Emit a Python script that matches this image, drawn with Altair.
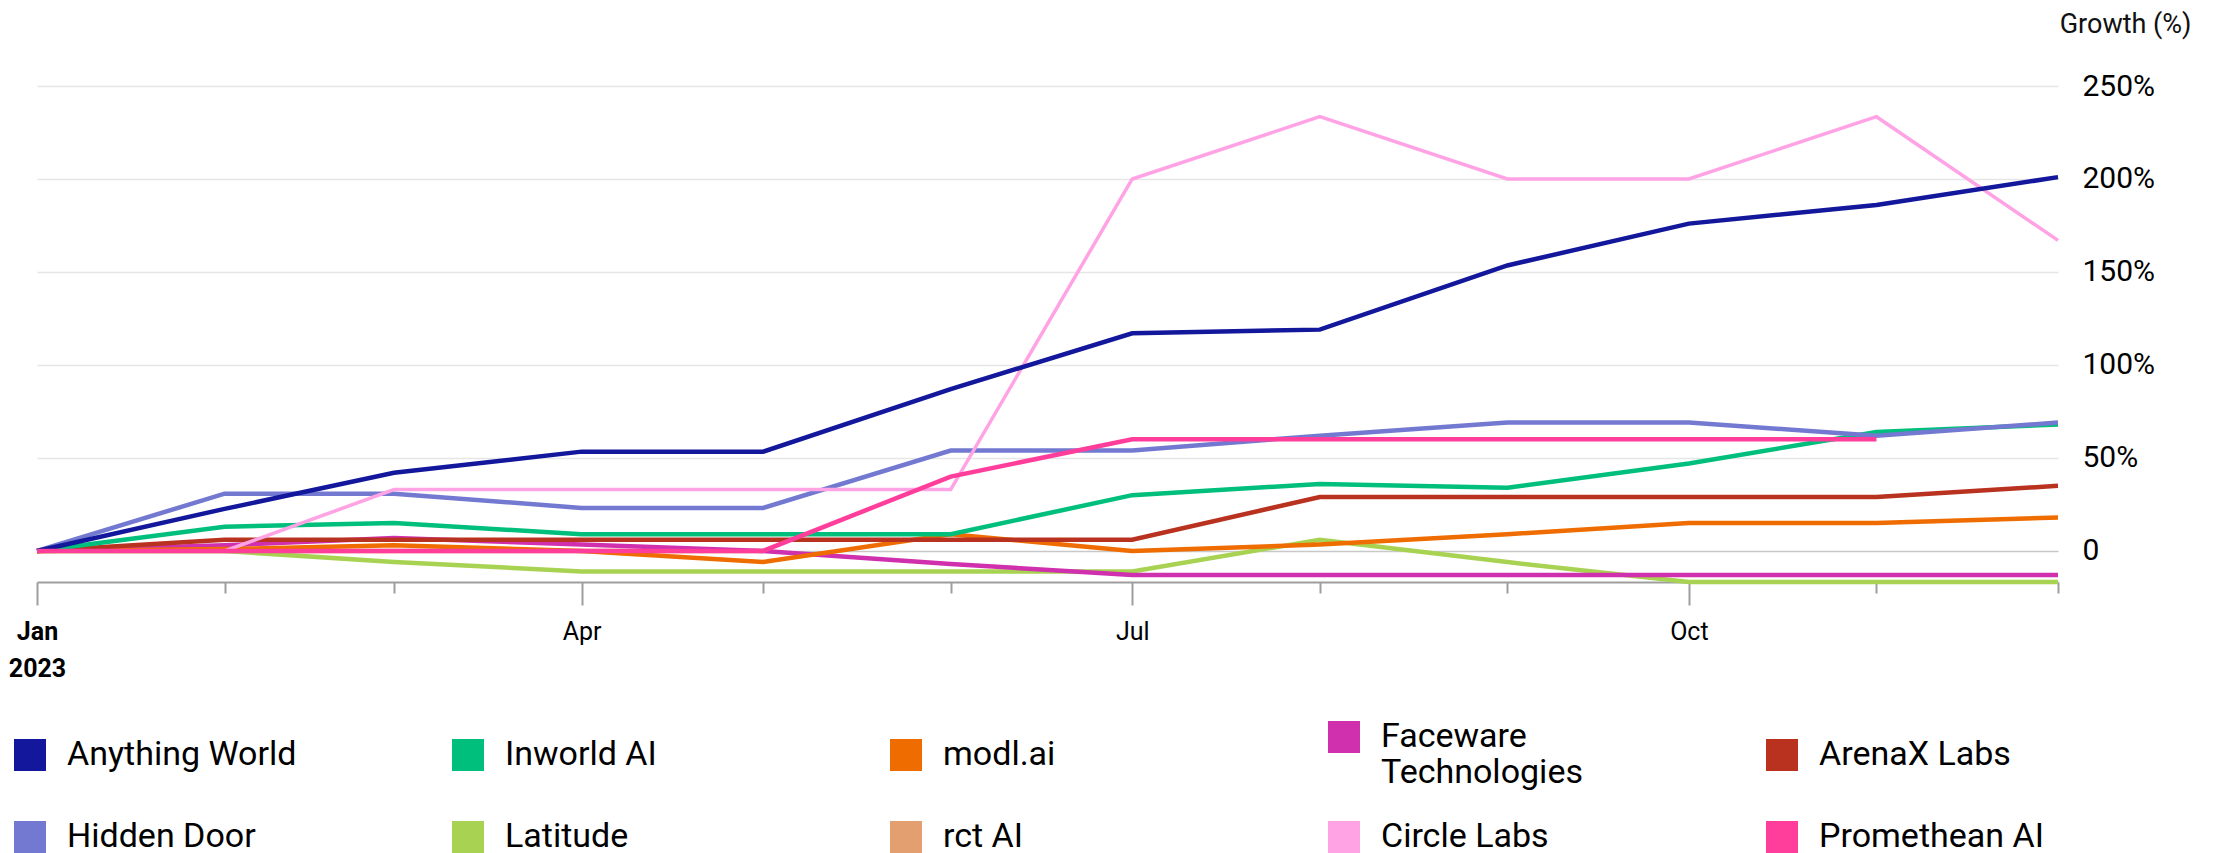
import altair as alt
import pandas as pd

months = ["2023-01-01", "2023-02-01", "2023-03-01", "2023-04-01", "2023-05-01", "2023-06-01",
          "2023-07-01", "2023-08-01", "2023-09-01", "2023-10-01", "2023-11-01", "2023-12-01"]

companies = ["Anything World", "Inworld AI", "modl.ai", "Faceware Technologies", "ArenaX Labs",
             "Hidden Door", "Latitude", "rct AI", "Circle Labs", "Promethean AI"]
colors = ["#12179B", "#00BF7D", "#EF6C00", "#D02FAE", "#B93220",
          "#7379D1", "#A8D252", "#E39F6F", "#FFA3E5", "#FF3E9C"]

anything_world = [0, 22.6, 42, 53.4, 53.4, 87, 117, 119, 153.5, 176, 186, 201]
inworld_ai = [0, 13, 15, 9, 9, 9, 30, 36, 34, 47, 64, 68]
modl_ai = [0, 1, 3, 0, -6, 9, 0, 3.4, 9, 15, 15, 18]
faceware = [0, 3, 7, 3.4, 0, -7, -13, -13, -13, -13, -13, -13]
arenax = [0, 6, 6, 6, 6, 6, 6, 29, 29, 29, 29, 35]
hidden_door = [0, 30.8, 30.8, 23.1, 23.1, 54, 54, 62, 69, 69, 62, 69]
latitude = [0, 0, -6, -11, -11, -11, -11, 6, -6, -16.7, -16.7, -16.7]
rct_ai = [0, 0, 0, 0, 0, None, None, None, None, None, None, None]
circle_labs = [0, 0, 33, 33, 33, 33, 200, 233.5, 200, 200, 233.5, 167]
promethean = [0, 0, 0, 0, 0, 40, 60, 60, 60, 60, 60, None]

series = {
    "Anything World": anything_world, "Inworld AI": inworld_ai, "modl.ai": modl_ai,
    "Faceware Technologies": faceware, "ArenaX Labs": arenax, "Hidden Door": hidden_door,
    "Latitude": latitude, "rct AI": rct_ai, "Circle Labs": circle_labs, "Promethean AI": promethean,
}
draw_order = ["rct AI", "Latitude", "Faceware Technologies", "modl.ai", "ArenaX Labs", "Inworld AI",
              "Hidden Door", "Circle Labs", "Anything World", "Promethean AI"]

rows = []
for k, name in enumerate(draw_order):
    for m, v in zip(months, series[name]):
        if v is not None:
            rows.append({"company": name, "date": m, "growth": v, "order": k})
df = pd.DataFrame(rows)

tick_values = [int(pd.Timestamp(m, tz="UTC").timestamp() * 1000) for m in months]
y_ticks = [0, 50, 100, 150, 200, 250]

x_scale = alt.Scale(type="utc", domain=[tick_values[0], tick_values[-1]])
y_scale = alt.Scale(domain=[-16.7, 250], nice=False, zero=False)

x_axis = alt.Axis(
    values=tick_values, title=None, grid=False,
    domainColor="#9e9e9e", domainWidth=2, tickColor="#9e9e9e", tickWidth=2,
    tickSize={"condition": {"test": "utcmonth(datum.value) % 3 == 0", "value": 23}, "value": 11},
    labelExpr="utcmonth(datum.value) == 0 ? [utcFormat(datum.value, '%b'), utcFormat(datum.value, '%Y')] : (utcmonth(datum.value) % 3 == 0 ? utcFormat(datum.value, '%b') : '')",
    labelFontSize=25, labelColor="#000000", labelLineHeight=37,
    labelFontWeight={"condition": {"test": "utcmonth(datum.value) == 0", "value": "bold"}, "value": "normal"},
    labelPadding=14, labelAlign="center", labelBaseline="top", labelOverlap=False, labelFlush=False,
)

y_axis = alt.Axis(
    values=y_ticks, orient="right", title="Growth (%)",
    labelExpr="datum.value == 0 ? '0' : datum.value + '%'",
    domain=False, ticks=False,
    gridColor={"condition": {"test": "datum.value == 0", "value": "#c8c8c8"}, "value": "#e6e6e6"},
    gridWidth=1.5, labelFontSize=30, labelPadding=24, labelAlign="left", labelBaseline="middle",
    labelColor="#000000",
    titleAngle=0, titleAlign="right", titleBaseline="middle", titleX=133, titleY=-62,
    titleFontSize=27, titleFontWeight="normal", titleColor="#111111",
)

legend = alt.Legend(
    title=None, orient="none", legendX=-24, legendY=634, direction="horizontal", columns=5,
    symbolType="square", symbolSize=1024, symbolStrokeWidth=0, symbolOpacity=1,
    labelFontSize=34, labelLimit=500, labelOffset=20, labelColor="#000000",
    columnPadding=154, rowPadding=30, gridAlign="all", padding=0,
    labelExpr="datum.label == 'Faceware Technologies' ? ['Faceware', 'Technologies'] : datum.label",
)

color = alt.Color("company:N", scale=alt.Scale(domain=companies, range=colors), legend=legend)

base = alt.Chart(df)

squares = base.mark_square(filled=True, opacity=0).encode(
    x=alt.X("date:T", scale=x_scale, axis=x_axis),
    y=alt.Y("growth:Q", scale=y_scale, axis=y_axis),
    color=color,
)

lines = base.mark_line(interpolate="linear").encode(
    x=alt.X("date:T", scale=x_scale, axis=x_axis),
    y=alt.Y("growth:Q", scale=y_scale, axis=y_axis),
    color=color,
    detail="order:O",
    strokeWidth=alt.condition(alt.datum.company == "Circle Labs", alt.value(3.5), alt.value(4.5)),
)

chart = alt.layer(squares, lines).properties(
    width=2021, height=496,
    padding={"left": 0, "top": 2, "right": 5, "bottom": 0},
).configure(font="Roboto").configure_view(stroke=None)

chart.save("out.html", embed_options={"renderer": "svg", "actions": False})
